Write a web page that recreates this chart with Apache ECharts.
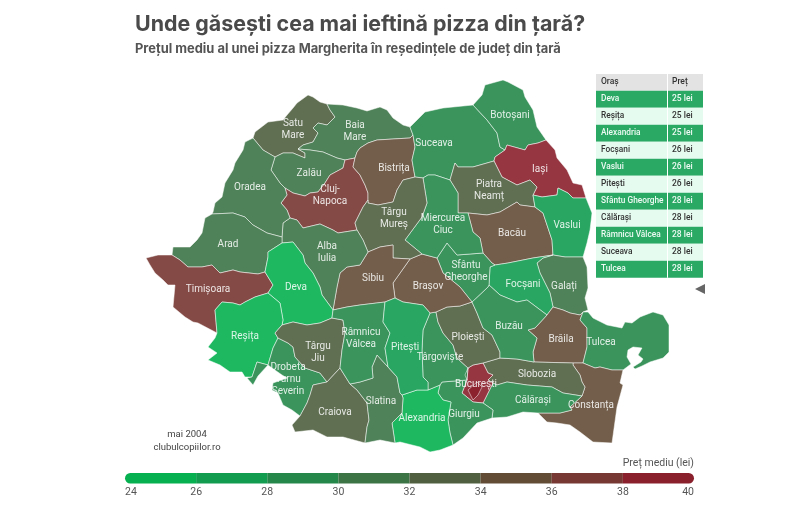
<!DOCTYPE html>
<html>
<head>
<meta charset="utf-8">
<style>html,body{margin:0;padding:0;background:#fff}#main{width:804px;height:518px}</style>
<script src="https://cdn.jsdelivr.net/npm/echarts@6/dist/echarts.min.js"></script>
</head>
<body>
<div id="main"></div>
<script>
// pretul pe oras (citit de pe harta, aproximativ)
var cities = ['Satu Mare','Baia Mare','Zalău','Cluj-Napoca','Bistrița','Suceava','Botoșani','Iași','Piatra Neamț','Bacău','Vaslui','Galați','Focșani','Brăila','Tulcea','Constanța','Slobozia','Călărași','București','Giurgiu','Alexandria','Târgoviște','Ploiești','Buzău','Sfântu Gheorghe','Brașov','Miercurea Ciuc','Târgu Mureș','Sibiu','Alba Iulia','Oradea','Arad','Timișoara','Deva','Reșița','Drobeta Turnu Severin','Târgu Jiu','Craiova','Slatina','Râmnicu Vâlcea','Pitești'];
var prices = [32,30,30,36,34,28,29,38,32,34,26,30,26,34,28,34,32,28,38,29,25,29,32,29,28,34,29,32,34,30,30,30,36,25,25,29,32,32,31,28,26];

var tableCities = ['Deva','Reșița','Alexandria','Focșani','Vaslui','Pitești','Sfântu Gheorghe','Călărași','Râmnicu Vâlcea','Suceava','Tulcea'];
var tablePrices = ['25 lei','25 lei','25 lei','26 lei','26 lei','26 lei','28 lei','28 lei','28 lei','28 lei','28 lei'];

var binEdges = [24,26,28,30,32,34,36,38,40];
var binColors = ['#06b050','#129c50','#25884a','#3c7446','#4f5f3f','#634c36','#773732','#8a202c'];

// hotare comune intre judete, ca sa nu ramana goluri
var E = {
  SM_Z:[[275,157],[283,153],[293,153],[305,158],[305,153],[298,149]],
  SM_BM:[[298,149],[303,145],[313,142],[318,133],[313,128],[318,123],[327,125],[335,117],[330,110],[327,104]],
  SM_coast:[[327,104],[320,102],[313,97],[308,95],[297,103],[293,108],[287,115],[283,120],[268,122],[255,132],[253,138]],
  SM_O:[[253,138],[263,150],[275,157]],
  BM_top:[[327,104],[343,105],[357,108],[367,111],[380,107],[387,110],[393,118],[403,125],[410,127]],
  BM_Sv:[[410,127],[413,135]],
  BM_Bn:[[413,135],[410,138],[393,139],[377,140],[368,143],[360,148],[357,152],[355,158]],
  BM_Z:[[298,149],[310,150],[323,152],[337,158],[345,160]],
  BM_C:[[345,160],[350,159],[355,158]],
  Z_C:[[345,160],[343,168],[330,175],[325,183],[318,192],[310,193],[305,196],[293,193],[285,188]],
  Z_O:[[285,188],[280,183],[271,170],[275,157]],
  C_Bn:[[355,158],[353,167],[360,175],[365,185],[368,193],[368,200]],
  C_TM:[[368,200],[363,207],[355,223],[357,230]],
  C_A:[[357,230],[338,233],[333,230],[320,224],[303,228],[297,220],[290,218]],
  C_O:[[290,218],[287,210],[281,203],[287,195],[285,188]],
  Bn_Sv:[[413,135],[415,147],[412,160],[415,177]],
  Bn_TM:[[415,177],[403,180],[397,190],[393,202],[378,205],[368,203],[368,200]],
  S_top:[[410,127],[425,112],[443,108],[473,105]],
  S_Bt:[[473,105],[487,120],[497,133],[500,147],[505,150]],
  S_I:[[505,150],[495,157],[494,161]],
  S_N:[[494,161],[473,167],[458,167],[455,163],[450,180]],
  S_H:[[450,180],[435,175],[428,175],[423,178]],
  S_TM:[[423,178],[415,177]],
  Bt_out:[[473,105],[482,95],[485,85],[503,80],[508,82],[523,90],[525,97],[533,110],[537,127],[546,140]],
  Bt_I:[[546,140],[538,143],[528,145],[525,150],[507,145],[505,150]],
  I_out:[[546,140],[555,150],[557,158],[567,170],[573,183],[582,185],[586,198]],
  I_V:[[586,198],[573,198],[568,193],[558,188],[557,195],[542,197],[533,195]],
  I_N:[[533,195],[537,187],[530,180],[517,185],[502,177],[494,161]],
  N_V:[[533,195],[535,207]],
  N_B:[[535,207],[520,205],[517,202],[500,212],[487,215],[468,213]],
  N_H:[[468,213],[458,213],[458,193],[450,180]],
  B_V:[[535,207],[543,213],[552,240],[553,255]],
  B_F:[[553,255],[533,258],[508,263],[495,265]],
  B_C:[[495,265],[492,263],[483,253]],
  B_H:[[483,253],[480,238],[473,232],[468,213]],
  V_out:[[586,198],[592,213],[590,230],[587,243],[583,257]],
  V_G:[[583,257],[565,257],[553,255]],
  G_F:[[553,255],[543,258],[537,263],[540,273],[550,293],[553,307]],
  G_Br:[[553,307],[563,310],[570,313],[580,315],[583,312]],
  G_coast:[[583,257],[587,267],[588,288],[585,298],[588,310],[583,312]],
  F_Br:[[553,307],[547,315]],
  F_Bu:[[547,315],[527,300],[517,302],[500,295],[489,285]],
  F_C:[[489,285],[490,267],[495,265]],
  Br_T:[[583,312],[580,320],[587,328],[587,335],[587,347],[583,363]],
  Br_Ct:[[583,363],[573,363]],
  Br_Sl:[[573,363],[534,362]],
  Br_Bu:[[534,362],[533,352],[537,338],[528,330],[535,328],[547,315]],
  T_out:[[583,312],[588,312],[593,318],[607,325],[622,328],[625,322],[632,323],[640,317],[653,312],[663,315],[669,325],[669,352],[663,358],[650,362],[642,366],[635,369],[633,367],[641,362],[643,359],[638,355],[642,348],[633,347],[628,350],[627,357],[631,364],[623,370]],
  T_Ct:[[623,370],[612,370],[600,367],[595,368],[583,363]],
  Ct_out:[[623,370],[620,383],[623,385],[617,407],[612,443],[593,442],[580,432],[570,425],[557,423],[547,422],[538,413]],
  Ct_Cl:[[538,413],[560,413],[572,410],[570,407],[582,396]],
  Ct_Sl:[[582,396],[585,387],[582,382],[580,375],[573,365],[573,363]],
  Sl_Cl:[[582,396],[563,393],[552,387],[527,385],[507,382],[497,385],[493,383]],
  Sl_Bc:[[493,383],[488,380],[493,375],[488,373],[483,363]],
  Sl_P:[[483,363],[500,358]],
  Sl_Bu:[[500,358],[517,359],[534,362]],
  Cl_coast:[[538,413],[523,412],[507,417],[492,418]],
  Cl_Gi:[[492,418],[493,410],[483,403]],
  Cl_Bc:[[483,403],[488,393],[493,383]],
  Bc_Gi:[[483,403],[473,402],[462,393],[467,380]],
  Bc_D:[[467,380],[465,375],[468,368]],
  Bc_P:[[468,368],[473,365],[483,363]],
  Gi_out:[[492,418],[477,423],[463,438],[453,445]],
  Gi_A:[[453,445],[450,433],[448,420],[451,402],[443,400],[438,393],[440,385]],
  Gi_D:[[440,385],[442,382],[467,380]],
  A_out:[[453,445],[440,450],[430,452],[420,447],[400,442],[395,443]],
  A_Sl:[[395,443],[392,423],[402,413],[403,398],[402,395]],
  A_P:[[402,395],[417,390],[428,390]],
  A_D:[[428,390],[440,385]],
  D_P:[[430,313],[423,330],[422,350],[423,377],[428,382],[428,390]],
  D_B:[[430,313],[436,312]],
  D_Pl:[[436,312],[438,322],[443,333],[453,345],[457,358],[468,368]],
  P_B:[[436,312],[447,307],[460,306],[472,302]],
  P_Bu:[[472,302],[477,313],[483,328],[492,335],[500,352],[500,358]],
  Bu_C:[[472,302],[488,287],[489,285]],
  Cv_Br:[[437,258],[443,273],[460,287],[472,302]],
  Cv_H:[[437,258],[447,243],[457,255],[483,253]],
  Brv_TM:[[410,259],[422,254]],
  Brv_H:[[422,254],[437,258]],
  Brv_Pt:[[430,313],[423,305],[403,302],[395,298]],
  Brv_Si:[[395,298],[393,283],[410,259]],
  H_TM:[[423,178],[427,203],[422,217],[405,240],[422,254]],
  TM_A:[[357,230],[363,240],[368,252]],
  TM_Si:[[368,252],[380,247],[393,245],[393,258],[410,259]],
  Si_Pt:[[395,298],[385,302]],
  Si_Vl:[[385,302],[360,305],[347,307],[333,310]],
  Si_A:[[333,310],[337,287],[340,273],[347,267],[360,265],[368,252]],
  A_Dv:[[333,310],[322,295],[320,287],[313,273],[305,263],[303,255],[293,242],[282,243]],
  A_Ar:[[282,243],[282,237]],
  A_O:[[282,237],[283,223],[290,218]],
  O_coast:[[253,138],[245,142],[243,150],[235,163],[233,170],[225,183],[222,197],[215,203],[213,212],[212,214]],
  O_Ar:[[212,214],[233,213],[245,217],[253,225],[267,233],[282,237]],
  Ar_coast:[[212,214],[205,218],[202,233],[197,240],[190,247],[173,247],[172,255]],
  Ar_T:[[172,255],[180,260],[188,267],[202,267],[212,265],[220,273],[233,270],[240,272],[258,274],[265,272]],
  Ar_Dv:[[265,272],[268,257],[268,252],[282,243]],
  T_coast:[[172,255],[158,255],[146,258],[150,265],[155,273],[163,280],[168,285],[175,285],[173,307],[185,317],[193,322],[198,323],[217,333]],
  Tm_Rs:[[217,333],[215,310],[222,302],[233,303],[240,305],[245,302],[255,297],[268,293]],
  Tm_Dv:[[268,293],[273,285],[265,272]],
  Dv_Rs:[[268,293],[280,303],[283,320],[282,325]],
  Dv_TJ:[[282,325],[293,322],[307,325],[320,323],[332,318]],
  Dv_Vl:[[332,318],[333,310]],
  Rs_TJ:[[282,325],[275,333],[278,338]],
  Rs_Dr:[[278,338],[273,348],[268,365]],
  Rs_piece:[[268,365],[257,362],[252,377]],
  Rs_coast:[[252,377],[245,377],[242,372],[230,372],[220,365],[208,360],[217,353],[208,347],[215,338],[217,333]],
  Dr_TJ:[[278,338],[288,343],[293,347],[295,357],[305,368],[320,373],[327,382]],
  Dr_Cr:[[327,382],[313,385],[310,395],[307,403],[300,416]],
  Dr_coast:[[300,416],[292,410],[283,405],[278,393],[272,390],[273,383],[287,378],[282,375],[272,368],[268,365]],
  Dr_mic:[[252,377],[247,378],[253,385],[258,376],[268,365]],
  TJ_Cr:[[327,382],[340,368]],
  TJ_Vl:[[332,318],[343,320],[345,333],[342,350],[340,368]],
  Cr_Vl:[[340,368],[350,384]],
  Cr_Sl:[[350,384],[357,390],[367,403],[369,420],[367,427],[365,443]],
  Cr_coast:[[365,443],[343,437],[327,437],[313,430],[295,432],[292,425],[300,416]],
  Slt_Vl:[[350,384],[360,382],[373,378],[372,367],[377,355],[388,367]],
  Slt_Pt:[[388,367],[397,377],[400,393],[402,395]],
  Slt_coast:[[395,443],[380,440],[365,443]],
  Vl_Pt:[[385,302],[383,322],[390,333],[385,348],[388,367]],
  Bc_in:[[477,382],[468,390],[473,400],[478,395],[482,387],[477,382]]
};

// fiecare judet: lista de hotare, "-" = parcurs invers; apoi locul etichetei si textul ei
var R = {
  'Satu Mare':[['SM_Z','SM_BM','SM_coast','SM_O'],[293,129],'Satu\nMare'],
  'Baia Mare':[['-SM_BM','BM_Z','BM_C','-BM_Bn','-BM_Sv','-BM_top'],[355,131],'Baia\nMare'],
  'Zalău':[['SM_Z','BM_Z','Z_C','Z_O'],[309,173]],
  'Cluj-Napoca':[['BM_C','C_Bn','C_TM','C_A','C_O','-Z_C'],[330,195],'Cluj-\nNapoca'],
  'Bistrița':[['-BM_Bn','Bn_Sv','Bn_TM','-C_Bn'],[394,168]],
  'Suceava':[['S_top','S_Bt','S_I','S_N','S_H','S_TM','-Bn_Sv','-BM_Sv'],[434,143]],
  'Botoșani':[['Bt_out','Bt_I','-S_Bt'],[510,115]],
  'Iași':[['I_out','I_V','I_N','-S_I','-Bt_I'],[540,169]],
  'Piatra Neamț':[['-I_N','N_V','N_B','N_H','-S_N'],[489,190],'Piatra\nNeamț'],
  'Bacău':[['-N_B','B_V','B_F','B_C','B_H'],[512,233]],
  'Vaslui':[['I_V','N_V','B_V','-V_G','-V_out'],[567,225]],
  'Galați':[['V_G','G_F','G_Br','-G_coast'],[564,286]],
  'Focșani':[['-B_F','G_F','F_Br','F_Bu','F_C'],[523,284]],
  'Brăila':[['G_Br','Br_T','Br_Ct','Br_Sl','Br_Bu','-F_Br'],[561,339]],
  'Tulcea':[['T_out','T_Ct','-Br_T'],[601,342]],
  'Constanța':[['-T_Ct','Ct_out','Ct_Cl','Ct_Sl','-Br_Ct'],[591,405]],
  'Slobozia':[['Sl_P','Sl_Bu','-Br_Sl','-Ct_Sl','Sl_Cl','Sl_Bc'],[537,374]],
  'Călărași':[['-Sl_Cl','-Ct_Cl','Cl_coast','Cl_Gi','Cl_Bc'],[533,400]],
  'București':[['Cl_Bc','Sl_Bc','-Bc_P','-Bc_D','-Bc_Gi'],[476,384]],
  'Giurgiu':[['Gi_D','-Bc_Gi','-Cl_Gi','Gi_out','Gi_A'],[464,414]],
  'Alexandria':[['A_P','A_D','-Gi_A','A_out','A_Sl'],[422,418]],
  'Târgoviște':[['D_B','D_Pl','Bc_D','-Gi_D','-A_D','-D_P'],[440,357]],
  'Ploiești':[['P_B','P_Bu','-Sl_P','-Bc_P','-D_Pl'],[468,337]],
  'Buzău':[['Bu_C','-F_Bu','-Br_Bu','-Sl_Bu','-P_Bu'],[509,326]],
  'Sfântu Gheorghe':[['Cv_H','-B_C','-F_C','-Bu_C','-Cv_Br'],[466,271],'Sfântu\nGheorghe'],
  'Brașov':[['Brv_TM','Brv_H','Cv_Br','-P_B','-D_B','Brv_Pt','Brv_Si'],[428,286]],
  'Miercurea Ciuc':[['-S_H','-N_H','-B_H','-Cv_H','-Brv_H','-H_TM'],[443,224],'Miercurea\nCiuc'],
  'Târgu Mureș':[['Bn_TM','C_TM','TM_A','TM_Si','Brv_TM','-H_TM','S_TM'],[394,218],'Târgu\nMureș'],
  'Sibiu':[['TM_Si','-Brv_Si','Si_Pt','Si_Vl','Si_A'],[373,278]],
  'Alba Iulia':[['-C_A','TM_A','-Si_A','A_Dv','A_Ar','A_O'],[327,252],'Alba\nIulia'],
  'Oradea':[['O_coast','O_Ar','A_O','C_O','Z_O','-SM_O'],[250,187]],
  'Arad':[['O_Ar','-A_Ar','-Ar_Dv','-Ar_T','-Ar_coast'],[228,244]],
  'Timișoara':[['T_coast','Tm_Rs','Tm_Dv','-Ar_T'],[208,289]],
  'Deva':[['Ar_Dv','-A_Dv','-Dv_Vl','-Dv_TJ','-Dv_Rs','Tm_Dv'],[296,287]],
  'Reșița':[['Dv_Rs','Rs_TJ','Rs_Dr','Rs_piece','Rs_coast','Tm_Rs'],[245,336]],
  'Drobeta Turnu Severin':[['Dr_TJ','Dr_Cr','Dr_coast','-Rs_Dr'],[288,379],'Drobeta\nTurnu\nSeverin'],
  'Târgu Jiu':[['Dr_TJ','TJ_Cr','-TJ_Vl','-Dv_TJ','Rs_TJ'],[318,352],'Târgu\nJiu'],
  'Craiova':[['Cr_Vl','Cr_Sl','Cr_coast','-Dr_Cr','TJ_Cr'],[335,412]],
  'Slatina':[['Slt_Vl','Slt_Pt','-A_Sl','Slt_coast','-Cr_Sl'],[381,401]],
  'Râmnicu Vâlcea':[['-Si_Vl','Vl_Pt','-Slt_Vl','-Cr_Vl','-TJ_Vl','Dv_Vl'],[361,338],'Râmnicu\nVâlcea'],
  'Pitești':[['-Si_Pt','-Brv_Pt','D_P','-A_P','-Slt_Pt','-Vl_Pt'],[405,347]]
};

function ring(parts) {
	var pts = [];
	for(var i = 0; i < parts.length; i++) {
		var rev = parts[i].charAt(0) == '-';
		var seg = E[rev ? parts[i].substring(1) : parts[i]].slice();
		if(rev) seg.reverse();
		pts = pts.concat(seg);
	}
	pts.push(pts[0]);
	return pts;
}

var features = cities.map(function(name) {
	var geom = {type: 'Polygon', coordinates: [ring(R[name][0])]};
	if(name == 'Drobeta Turnu Severin') {
		// bucata mica de la vest de Dunare
		geom = {type: 'MultiPolygon', coordinates: [geom.coordinates, [ring(['Rs_piece', 'Dr_mic'])]]};
	}
	return {type: 'Feature', properties: {name: name, cp: R[name][1]}, geometry: geom};
});
features.push({type: 'Feature', properties: {name: 'Municipiul București', cp: [477, 390]}, geometry: {type: 'Polygon', coordinates: [E.Bc_in]}});
echarts.registerMap('romania', {type: 'FeatureCollection', features: features});

var mapData = cities.map(function(c, i) { return {name: c, value: prices[i]}; });
mapData.push({name: 'Municipiul București', value: 38});

var pieces = binColors.map(function(c, i) { return {gte: binEdges[i], lt: binEdges[i + 1], color: c}; });

// bara de legenda: cate un segment stivuit pentru fiecare interval
var legendSeries = binColors.map(function(c, i) {
	var radius = i == 0 ? [6, 0, 0, 6] : (i == binColors.length - 1 ? [0, 6, 6, 0] : 0);
	return {
		type: 'bar', stack: 'legend', xAxisIndex: 0, yAxisIndex: 0, barWidth: '100%', silent: true,
		itemStyle: {color: c, borderRadius: radius},
		data: [i == 0 ? binEdges[1] : binEdges[i + 1] - binEdges[i]]
	};
});

// tabelul din dreapta
var tableX = [596, 667.5, 703], rowH = 17, headH = 16.7, tableY = 74;
var tableEls = [
	{type: 'rect', shape: {x: tableX[0], y: tableY, width: tableX[2] - tableX[0], height: headH}, style: {fill: '#e3e3e3'}},
	{type: 'text', x: tableX[0] + 5, y: tableY + headH / 2, style: {text: 'Oraș', fill: '#333', font: '500 8.5px Roboto', verticalAlign: 'middle'}},
	{type: 'text', x: tableX[1] + 4.5, y: tableY + headH / 2, style: {text: 'Preț', fill: '#333', font: '500 8.5px Roboto', verticalAlign: 'middle'}}
];
tableCities.forEach(function(c, i) {
	var y = tableY + headH + i * rowH, dark = i % 2 == 0;
	tableEls.push({type: 'rect', shape: {x: tableX[0], y: y, width: tableX[2] - tableX[0], height: rowH}, style: {fill: dark ? '#2aa965' : '#e5fbef'}});
	tableEls.push({type: 'text', x: tableX[0] + 5, y: y + rowH / 2, style: {text: c, fill: dark ? '#eefaf3' : '#333', font: '500 8.3px Roboto', verticalAlign: 'middle'}});
	tableEls.push({type: 'text', x: tableX[1] + 4.5, y: y + rowH / 2, style: {text: tablePrices[i], fill: dark ? '#eefaf3' : '#333', font: '500 8.5px Roboto', verticalAlign: 'middle'}});
});
tableEls.push({type: 'rect', shape: {x: tableX[1] - 0.5, y: tableY, width: 1, height: headH + rowH * tableCities.length}, style: {fill: '#fff'}});
tableEls.push({type: 'polygon', shape: {points: [[695, 289], [705, 284], [705, 294]]}, style: {fill: '#666'}});

tableEls.push({type: 'text', x: 187, y: 435, style: {text: 'mai 2004', fill: '#444', font: '9.5px Roboto', align: 'center', verticalAlign: 'middle'}});
tableEls.push({type: 'text', x: 187, y: 448, style: {text: 'clubulcopiilor.ro', fill: '#444', font: '9.5px Roboto', align: 'center', verticalAlign: 'middle'}});
tableEls.push({type: 'text', x: 694, y: 463, style: {text: 'Preț mediu (lei)', fill: '#555', font: '10.5px Roboto', align: 'right', verticalAlign: 'middle'}});

var mychart = echarts.init(document.getElementById('main'), null, {renderer: 'canvas'});
mychart.setOption({
	animation: false,
	backgroundColor: '#fff',
	title: {
		left: 135, top: 14, padding: 0,
		text: 'Unde găsești cea mai ieftină pizza din țară?',
		subtext: 'Prețul mediu al unei pizza Margherita în reședințele de județ din țară',
		itemGap: 8,
		textStyle: {fontFamily: 'Inter', fontWeight: 'bold', fontSize: 21.4, color: '#4a4a4a'},
		subtextStyle: {fontFamily: 'Inter', fontWeight: 'bold', fontSize: 12.9, color: '#555'}
	},
	visualMap: {type: 'piecewise', show: false, seriesIndex: 0, pieces: pieces},
	grid: {left: 125, right: 110, top: 473, height: 10.5},
	xAxis: {
		type: 'value', min: binEdges[0], max: binEdges[binEdges.length - 1], interval: 2,
		axisLine: {show: false}, axisTick: {show: false}, splitLine: {show: false},
		axisLabel: {color: '#555', fontFamily: 'Roboto', fontSize: 10.5, margin: 3, alignMinLabel: 'left', alignMaxLabel: 'right'}
	},
	yAxis: {type: 'category', show: false, data: ['lei']},
	graphic: tableEls,
	series: [{
		type: 'map', map: 'romania',
		projection: {project: function(p) { return p; }, unproject: function(p) { return p; }},
		left: 146, top: 80, width: 523, height: 372,
		silent: true, selectedMode: false,
		itemStyle: {opacity: 0.9, borderColor: 'rgba(255,255,255,0.8)', borderWidth: 0.7},
		label: {
			show: true, color: 'rgba(255,255,255,0.85)', fontFamily: 'Roboto', fontSize: 10, lineHeight: 12,
			formatter: function(p) {
				var r = R[p.name];
				return r ? (r[2] || p.name) : '';
			}
		},
		data: mapData
	}].concat(legendSeries)
});
</script>
</body>
</html>
